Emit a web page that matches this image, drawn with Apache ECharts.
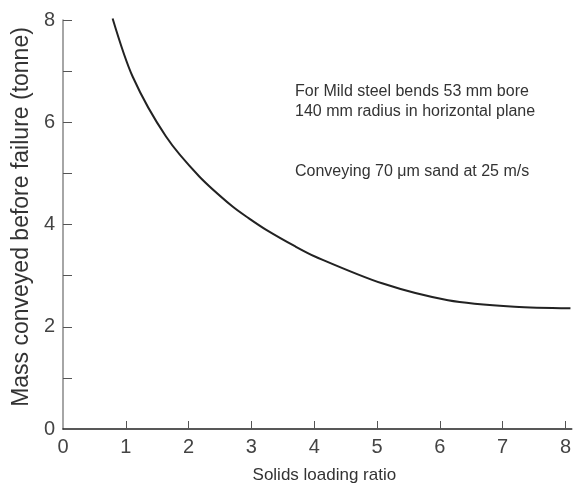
<!DOCTYPE html>
<html>
<head>
<meta charset="utf-8">
<script src="https://cdn.jsdelivr.net/npm/echarts@6/dist/echarts.min.js"></script>
<style>
html,body{margin:0;padding:0;background:#fff;}
#c{width:574px;height:495px;}
</style>
</head>
<body>
<div id="c"></div>
<script>
var loadingRatio = [0.79, 1.11, 1.64, 2.17, 2.70, 2.96, 3.23, 3.70, 4.02, 5.08, 6.13, 7.19, 8.08];
var massConveyed = [8.03, 6.89, 5.72, 4.94, 4.35, 4.12, 3.90, 3.57, 3.37, 2.85, 2.52, 2.39, 2.36];
var xTickLabels = [0, 1, 2, 3, 4, 5, 6, 7, 8];
var yTickLabels = [0, 2, 4, 6, 8];
var yTicks = [1, 2, 3, 4, 5, 6, 7, 8];
var xTicks = [1, 2, 3, 4, 5, 6, 7, 8];
var noteLines = [
  'For Mild steel bends 53 mm bore',
  '140 mm radius in horizontal plane',
  'Conveying 70 \u03bcm sand at 25 m/s'
];
var xName = 'Solids loading ratio';
var yName = 'Mass conveyed before failure (tonne)';

var font = '"Liberation Sans", Arial, sans-serif';

var chart = echarts.init(document.getElementById('c'), null, {renderer: 'canvas'});
var pts = loadingRatio.map(function (x, i) { return [x, massConveyed[i]]; });

chart.setOption({
  animation: false,
  backgroundColor: '#fff',
  grid: {left: 63, right: 0, top: 20, bottom: 66, containLabel: false},
  xAxis: {
    type: 'value', min: 0, max: 8.1,
    name: xName, nameLocation: 'middle', nameGap: 38,
    nameTextStyle: {fontFamily: font, fontSize: 17, color: '#333', padding: [0, 0, 0, 14]},
    axisLine: {lineStyle: {color: '#222', width: 1.5}},
    axisTick: {inside: true, length: 8, lineStyle: {color: '#555'}, customValues: xTicks},
    axisLabel: {customValues: xTickLabels, margin: 8, fontFamily: font, fontSize: 20, color: '#444'},
    splitLine: {show: false}
  },
  yAxis: {
    type: 'value', min: 0, max: 8,
    name: yName, nameLocation: 'middle', nameGap: 27, nameRotate: 90,
    nameTextStyle: {fontFamily: font, fontSize: 23, color: '#333', padding: [0, 0, 0, 15]},
    axisLine: {show: true, lineStyle: {color: '#888', width: 1.5}},
    axisTick: {show: true, inside: true, length: 9, lineStyle: {color: '#555'}, customValues: yTicks},
    axisLabel: {customValues: yTickLabels, margin: 8, fontFamily: font, fontSize: 20, color: '#444'},
    splitLine: {show: false}
  },
  graphic: [
    {type: 'text', left: 295, top: 84, style: {text: noteLines[0], font: '16px ' + font, fill: '#333'}},
    {type: 'text', left: 295, top: 104, style: {text: noteLines[1], font: '16px ' + font, fill: '#333'}},
    {type: 'text', left: 295, top: 164, style: {text: noteLines[2], font: '16px ' + font, fill: '#333'}}
  ],
  series: [{
    type: 'line', data: pts, smooth: 0.3, showSymbol: false,
    lineStyle: {color: '#222', width: 2}, clip: false
  }]
});
</script>
</body>
</html>
